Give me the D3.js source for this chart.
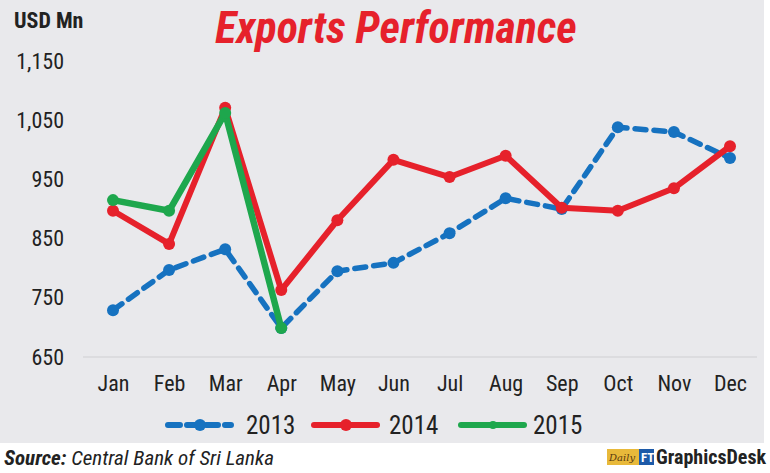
<!DOCTYPE html>
<html><head><meta charset="utf-8">
<script src="https://cdn.jsdelivr.net/npm/d3@7/dist/d3.min.js"></script>
<style>body{margin:0;background:#fff}svg{display:block}</style>
</head><body><svg id="c" width="770" height="473"></svg>
<script>
const months = ["Jan","Feb","Mar","Apr","May","Jun","Jul","Aug","Sep","Oct","Nov","Dec"];
const s2013 = [729,797,832,699,795,809,859,918,900,1038,1030,986];
const s2014 = [897,841,1071,763,881,983,954,990,902,897,935,1006];
const s2015 = [915,897,1062,699];
const yTicks = [650,750,850,950,1050,1150];
const seriesNames = ["2013","2014","2015"];

const svg = d3.select("#c");
const narrow = "'Liberation Sans Narrow','Roboto Condensed','Arial Narrow',sans-serif";
svg.append("rect").attr("x",0).attr("y",0).attr("width",764).attr("height",443).attr("fill","#e9e9ec");

const x = d3.scalePoint().domain(months).range([113,730]);
const y = d3.scaleLinear().domain([650,1150]).range([357,61]);

svg.append("line").attr("x1",83).attr("x2",757).attr("y1",357).attr("y2",357).attr("stroke","#dcdcdf").attr("stroke-width",2);

const yAxis = svg.append("g").attr("transform","translate(64,0)")
  .call(d3.axisLeft(y).tickValues(yTicks).tickSize(0).tickPadding(0).tickFormat(d3.format(",")));
yAxis.select(".domain").remove();
yAxis.selectAll("text").attr("font-family",narrow).attr("font-size",22).attr("fill","#222");

const xAxis = svg.append("g").attr("transform","translate(0,372)")
  .call(d3.axisBottom(x).tickSize(0).tickPadding(0));
xAxis.select(".domain").remove();
xAxis.selectAll("text").attr("font-family",narrow).attr("font-size",22).attr("fill","#222").attr("dy","0.85em");

const line = d3.line().x((d,i)=>x(months[i])).y(d=>y(d));
const cfg = [
  {data:s2013,color:"#1672c0",dash:"11,8",w:5.5},
  {data:s2014,color:"#e6212b",dash:null,w:6},
  {data:s2015,color:"#1ea74d",dash:null,w:6.5}
];
cfg.forEach(c=>{
  svg.append("path").datum(c.data).attr("d",line).attr("fill","none")
    .attr("stroke",c.color).attr("stroke-width",c.w).attr("stroke-dasharray",c.dash)
    .attr("stroke-linejoin","round").attr("stroke-linecap","round");
  svg.append("g").selectAll("circle").data(c.data).join("circle")
    .attr("cx",(d,i)=>x(months[i])).attr("cy",d=>y(d)).attr("r",6).attr("fill",c.color);
});

svg.append("text").attr("x",14).attr("y",28).text("USD Mn")
  .attr("font-family",narrow).attr("font-weight","bold").attr("font-size",22).attr("fill","#222");
svg.append("text").attr("x",396).attr("y",43).attr("text-anchor","middle").text("Exports Performance")
  .attr("font-family",narrow).attr("font-weight","bold").attr("font-style","italic").attr("font-size",44).attr("fill","#e6212b");

// legend
const lg = [{x:168,tx:246},{x:314,tx:389},{x:461,tx:533}];
cfg.forEach((c,i)=>{
  const g = svg.append("g");
  g.append("line").attr("x1",lg[i].x).attr("x2",lg[i].x+63).attr("y1",425).attr("y2",425)
    .attr("stroke",c.color).attr("stroke-width",6).attr("stroke-dasharray",c.dash?"12,7":null).attr("stroke-linecap","round");
  g.append("circle").attr("cx",lg[i].x+32).attr("cy",425).attr("r",i==2?4:6).attr("fill",c.color);
  g.append("text").attr("x",lg[i].tx).attr("y",434).text(seriesNames[i])
    .attr("font-family",narrow).attr("font-size",25).attr("fill","#222");
});

// source
const st = svg.append("text").attr("x",4).attr("y",465).attr("font-family",narrow).attr("font-style","italic").attr("font-size",21).attr("fill","#222");
st.append("tspan").attr("font-weight","bold").text("Source:");
st.append("tspan").text(" Central Bank of Sri Lanka");

// logo
svg.append("rect").attr("x",607).attr("y",449).attr("width",33).attr("height",16).attr("fill","#e8b93a");
svg.append("text").attr("x",609).attr("y",461).text("Daily").attr("font-family","'DejaVu Serif',serif").attr("font-style","italic").attr("font-size",10).attr("fill","#5a3a10");
svg.append("rect").attr("x",639).attr("y",449).attr("width",15).attr("height",16).attr("fill","#1d5aa8");
svg.append("text").attr("x",641).attr("y",462).text("FT").attr("font-family",narrow).attr("font-weight","bold").attr("font-size",13).attr("fill","#fff");
svg.append("text").attr("x",656).attr("y",464).text("GraphicsDesk").attr("font-family",narrow).attr("font-weight","bold").attr("font-size",20).attr("fill","#222");
</script></body></html>
